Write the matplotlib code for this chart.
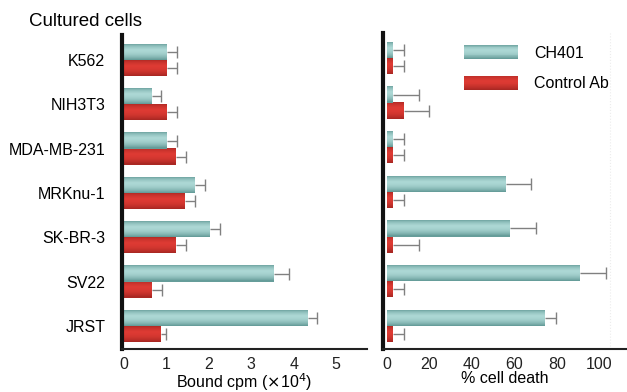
import numpy as np
import matplotlib
matplotlib.use("Agg")
import matplotlib.pyplot as plt
from matplotlib.colors import to_rgb
from matplotlib.legend_handler import HandlerBase
from matplotlib.patches import Rectangle

plt.rcParams["font.family"] = ["Liberation Sans", "DejaVu Sans"]
plt.rcParams["font.size"] = 11.5

cells = ["K562", "NIH3T3", "MDA-MB-231", "MRKnu-1", "SK-BR-3", "SV22", "JRST"]

# bound cpm (x10^4)
bound_ch401 = [1.0, 0.65, 1.0, 1.68, 2.02, 3.53, 4.33]
bound_ch401_err = [0.24, 0.23, 0.24, 0.22, 0.24, 0.35, 0.23]
bound_ctrl = [1.0, 1.0, 1.22, 1.44, 1.22, 0.65, 0.87]
bound_ctrl_err = [0.24, 0.24, 0.24, 0.24, 0.25, 0.24, 0.12]

# % cell death
death_ch401 = [3, 3, 3, 56, 58, 91, 74.5]
death_ch401_err = [5, 12, 5, 12, 12, 12, 5]
death_ctrl = [3, 8, 3, 3, 3, 3, 3]
death_ctrl_err = [5, 12, 5, 5, 12, 5, 5]

series_names = ["CH401", "Control Ab"]


def shades(dark, light, n=16):
    d = np.array(to_rgb(dark))
    l = np.array(to_rgb(light))
    out = []
    for k in range(n):
        t = (k + 0.5) / n
        if t < 0.35:
            w = (t / 0.35) ** 0.5
        else:
            w = 1 - ((t - 0.35) / 0.65) ** 2
        out.append(tuple(d + (l - d) * w))
    return out


teal = shades("#5f9794", "#acd7d4")
red = shades("#a52621", "#dd3a33")


def grad_barh(ax, pos, vals, h, cols):
    n = len(cols)
    for k, c in enumerate(cols):
        ax.barh(pos - h / 2 + (k + 0.5) * h / n, vals, height=h / n * 1.3,
                color=c, linewidth=0, zorder=2 + k * 0.001)


def err_one_side(ax, pos, vals, err):
    vals = np.asarray(vals, float)
    ends = vals + np.asarray(err, float)
    ax.hlines(pos, vals, ends, color="#808080", lw=1, zorder=1)
    ax.plot(ends, pos, ls="none", marker="|", ms=8, mew=1, color="#808080", zorder=1)


class GradHandler(HandlerBase):
    def __init__(self, cols):
        super().__init__()
        self.cols = cols

    def create_artists(self, legend, orig_handle, xdescent, ydescent,
                       width, height, fontsize, trans):
        n = len(self.cols)
        arts = []
        for k, c in enumerate(self.cols):
            y0 = -ydescent + height - (k + 1) * height / n
            arts.append(Rectangle((-xdescent, y0), width, height / n * 1.3,
                                  facecolor=c, lw=0, transform=trans))
        return arts


W, H = 627, 392
fig = plt.figure(figsize=(6.27, 3.92), dpi=100)
ax1 = fig.add_axes([122 / W, 1 - 349 / H, (367 - 122) / W, (349 - 35) / H])
ax2 = fig.add_axes([383 / W, 1 - 349 / H, (627 - 383) / W, (349 - 33) / H])

y = np.arange(len(cells))
bh = 0.36

for ax, a, ae, b, be in [(ax1, bound_ch401, bound_ch401_err, bound_ctrl, bound_ctrl_err),
                         (ax2, death_ch401, death_ch401_err, death_ctrl, death_ctrl_err)]:
    err_one_side(ax, y - bh / 2, a, ae)
    err_one_side(ax, y + bh / 2, b, be)
    grad_barh(ax, y - bh / 2, a, bh, teal)
    grad_barh(ax, y + bh / 2, b, bh, red)
    ax.set_ylim(len(cells) - 1 + 0.52, -0.56)
    for s in ["top", "right"]:
        ax.spines[s].set_visible(False)
    ax.spines["left"].set_linewidth(3)
    ax.spines["left"].set_color("#111111")
    ax.spines["bottom"].set_linewidth(1.5)
    ax.spines["bottom"].set_color("#222222")
    ax.tick_params(length=0)
    ax.tick_params(axis="x", pad=6, labelsize=11.5, colors="#222222")

ax1.set_xlim(-0.05, 5.73)
ax1.set_xticks([0, 1, 2, 3, 4, 5])
ax1.set_yticks(y)
ax1.set_yticklabels(cells)
ax1.tick_params(axis="y", pad=12, labelsize=11.5)
ax1.set_xlabel("Bound cpm ($\\times$10$^4$)", labelpad=-1)

ax2.set_xlim(-1.8, 113)
ax2.set_xticks([0, 20, 40, 60, 80, 100])
ax2.set_yticks([])
ax2.set_xlabel("% cell death", labelpad=-1)
ax2.axvline(105, color="#ececec", ls=":", lw=0.8, zorder=0)

h1 = Rectangle((0, 0), 1, 1)
h2 = Rectangle((0, 0), 1, 1)
ax2.legend([h1, h2], series_names, handler_map={h1: GradHandler(teal), h2: GradHandler(red)},
           loc="upper left", bbox_to_anchor=(464 / W, 1 - 45 / H),
           bbox_transform=fig.transFigure, frameon=False, borderpad=0,
           borderaxespad=0, handlelength=3.4, handleheight=1.0,
           handletextpad=1.0, labelspacing=0.95, fontsize=11.5)

fig.text(29 / W, 1 - 21 / H, "Cultured cells", fontsize=13.5, va="center", ha="left")

fig.savefig("out.png", dpi=100)
